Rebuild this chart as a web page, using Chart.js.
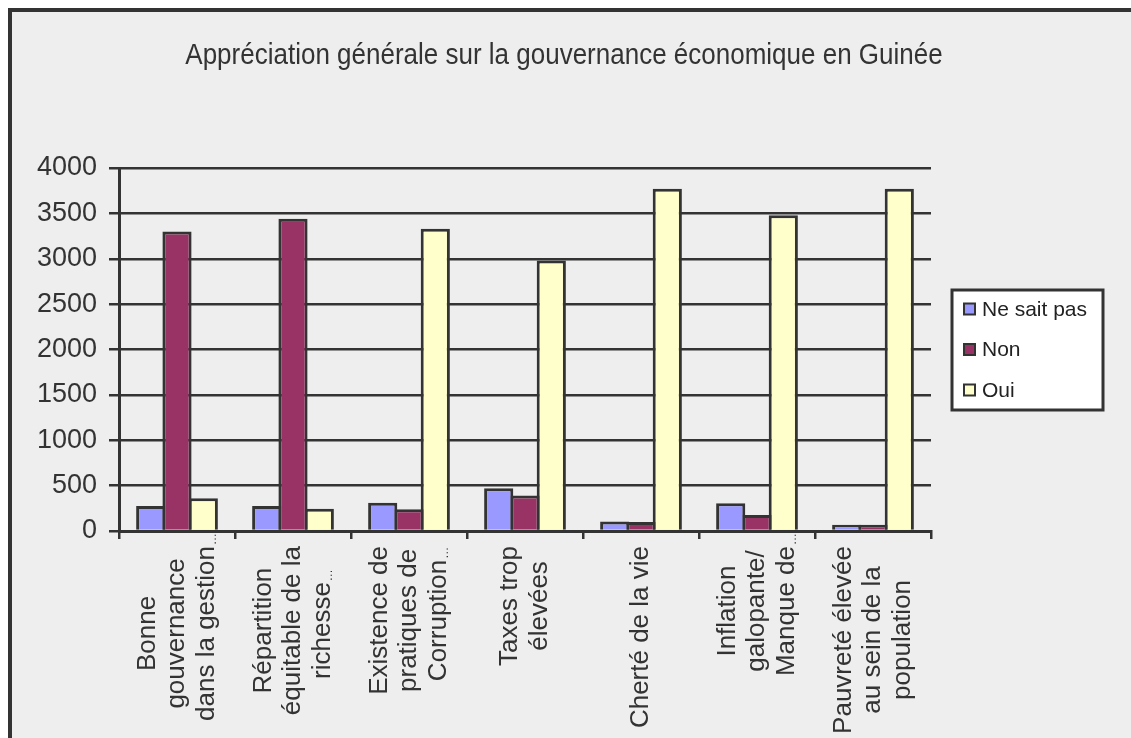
<!DOCTYPE html>
<html lang="fr">
<head>
<meta charset="utf-8">
<title>Appréciation générale sur la gouvernance économique en Guinée</title>
<script src="https://cdn.jsdelivr.net/npm/chart.js@4/dist/chart.umd.min.js"></script>
<style>
  html, body { margin: 0; padding: 0; background: #ffffff; }
  #wrap { width: 1131px; height: 738px; position: relative; }
</style>
</head>
<body>
<div id="wrap"><canvas id="chart" width="1131" height="738"></canvas></div>
<script>
// Survey categories, each split over the lines shown under the axis
const categories = [
  ["Bonne", "gouvernance", "dans la gestion\u2026"],
  ["Répartition", "équitable de la", "richesse\u2026"],
  ["Existence de", "pratiques de", "Corruption\u2026"],
  ["Taxes trop", "élevées"],
  ["Cherté de la vie"],
  ["Inflation", "galopante/", "Manque de\u2026"],
  ["Pauvreté élevée", "au sein de la", "population"]
];

const seriesNames = ["Ne sait pas", "Non", "Oui"];
const neSaitPas = [275, 275, 310, 470, 105, 305, 70];
const non       = [3300, 3440, 240, 390, 100, 175, 70];
const oui       = [362, 245, 3330, 2980, 3770, 3480, 3770];

const yTicks = [0, 500, 1000, 1500, 2000, 2500, 3000, 3500, 4000];

const chartTitle = 'Appréciation générale sur la gouvernance économique en Guinée';

const fills = ["#9999ff", "#993366", "#ffffcc"];
const ink = "#333333";
const sans = '"Liberation Sans", Arial, sans-serif';
const ELLIPSIS = '\u2026';

// Page frame: light grey panel with a dark rule on its top and left edges
const framePlugin = {
  id: 'frame',
  beforeDraw(chart) {
    const { ctx, width, height } = chart;
    ctx.save();
    ctx.fillStyle = '#ffffff';
    ctx.fillRect(0, 0, width, height);
    ctx.fillStyle = '#eeeeee';
    ctx.fillRect(10, 10, width, height);
    ctx.strokeStyle = ink;
    ctx.lineWidth = 4;
    ctx.strokeRect(10, 10, width + 20, height + 20);
    ctx.restore();
  }
};

// Title centred over the whole panel, slightly tall lettering
const titlePlugin = {
  id: 'panelTitle',
  afterDraw(chart) {
    const { ctx, width } = chart;
    ctx.save();
    ctx.font = '26px ' + sans;
    ctx.fillStyle = ink;
    ctx.textAlign = 'center';
    ctx.textBaseline = 'alphabetic';
    ctx.translate(width / 2 - 1.5, 64);
    ctx.scale(1, 1.15);
    ctx.fillText(chartTitle, 0, 0);
    ctx.restore();
  }
};

// Category names written vertically, lines centred on the longest one;
// a truncated line gets a small ellipsis past its end
const categoryLabelPlugin = {
  id: 'categoryLabels',
  afterDraw(chart) {
    const { ctx } = chart;
    const xs = chart.scales.x;
    const lh = 29.5;
    const font = '26px ' + sans;
    ctx.save();
    ctx.fillStyle = ink;
    ctx.textBaseline = 'middle';
    categories.forEach((lines, i) => {
      ctx.font = font;
      const bare = lines.map(l => l.endsWith(ELLIPSIS) ? l.slice(0, -1) : l);
      const widths = bare.map(l => ctx.measureText(l).width);
      const maxW = Math.max(...widths);
      const x = xs.getPixelForValue(i);
      const y0 = xs.top + 15;
      ctx.save();
      ctx.translate(x, y0 + maxW / 2);
      ctx.rotate(-Math.PI / 2);
      lines.forEach((line, j) => {
        const off = (j - (lines.length - 1) / 2) * lh;
        ctx.font = font;
        ctx.textAlign = 'center';
        ctx.fillText(bare[j], 0, off);
        if (line.endsWith(ELLIPSIS)) {
          ctx.font = '12px ' + sans;
          ctx.textAlign = 'left';
          ctx.fillText(ELLIPSIS, widths[j] / 2 + 1, off + 6);
        }
      });
      ctx.restore();
    });
    ctx.restore();
  }
};

// Boxed legend to the right of the plot
const boxedLegendPlugin = {
  id: 'boxedLegend',
  afterDraw(chart) {
    const { ctx } = chart;
    const left = 952, top = 290, w = 151, h = 120;
    ctx.save();
    ctx.fillStyle = '#ffffff';
    ctx.fillRect(left, top, w, h);
    ctx.strokeStyle = ink;
    ctx.lineWidth = 3;
    ctx.strokeRect(left, top, w, h);
    ctx.font = '21px ' + sans;
    ctx.textBaseline = 'middle';
    ctx.textAlign = 'left';
    chart.data.datasets.forEach((ds, i) => {
      const cy = top + 19 + i * 40.5;
      ctx.fillStyle = ds.backgroundColor;
      ctx.fillRect(964, cy - 5.5, 11, 11);
      ctx.lineWidth = 2;
      ctx.strokeStyle = ink;
      ctx.strokeRect(964, cy - 5.5, 11, 11);
      ctx.fillStyle = '#222222';
      ctx.fillText(ds.label, 982, cy + 1);
    });
    ctx.restore();
  }
};

const datasets = [neSaitPas, non, oui].map((values, i) => ({
  label: seriesNames[i],
  data: values,
  backgroundColor: fills[i],
  borderColor: ink,
  borderWidth: 3,
  borderSkipped: 'bottom',
  categoryPercentage: 0.68,
  barPercentage: 1.11
}));

new Chart(document.getElementById('chart'), {
  type: 'bar',
  data: { labels: categories.map(c => c.join(' ')), datasets },
  options: {
    responsive: false,
    animation: false,
    devicePixelRatio: 1,
    layout: { padding: { left: 0, right: 200, top: 168, bottom: 0 } },
    plugins: {
      legend: { display: false },
      tooltip: { enabled: false },
      title: { display: false }
    },
    scales: {
      x: {
        grid: {
          offset: true,
          drawOnChartArea: false,
          drawTicks: true,
          tickLength: 8,
          color: ink,
          lineWidth: 2.5
        },
        border: { display: true, color: ink, width: 3 },
        ticks: { display: false },
        afterFit(scale) { scale.height = 207; }
      },
      y: {
        min: 0,
        max: 4000,
        afterBuildTicks(scale) { scale.ticks = yTicks.map(v => ({ value: v })); },
        grid: {
          color: ink,
          lineWidth: 2.5,
          drawTicks: true,
          tickLength: 10
        },
        border: { display: true, color: ink, width: 3 },
        ticks: {
          padding: 12,
          color: ink,
          font: { family: sans, size: 27 },
          callback: v => String(v)
        },
        afterFit(scale) { scale.width = 119; }
      }
    }
  },
  plugins: [framePlugin, titlePlugin, categoryLabelPlugin, boxedLegendPlugin]
});
</script>
</body>
</html>
